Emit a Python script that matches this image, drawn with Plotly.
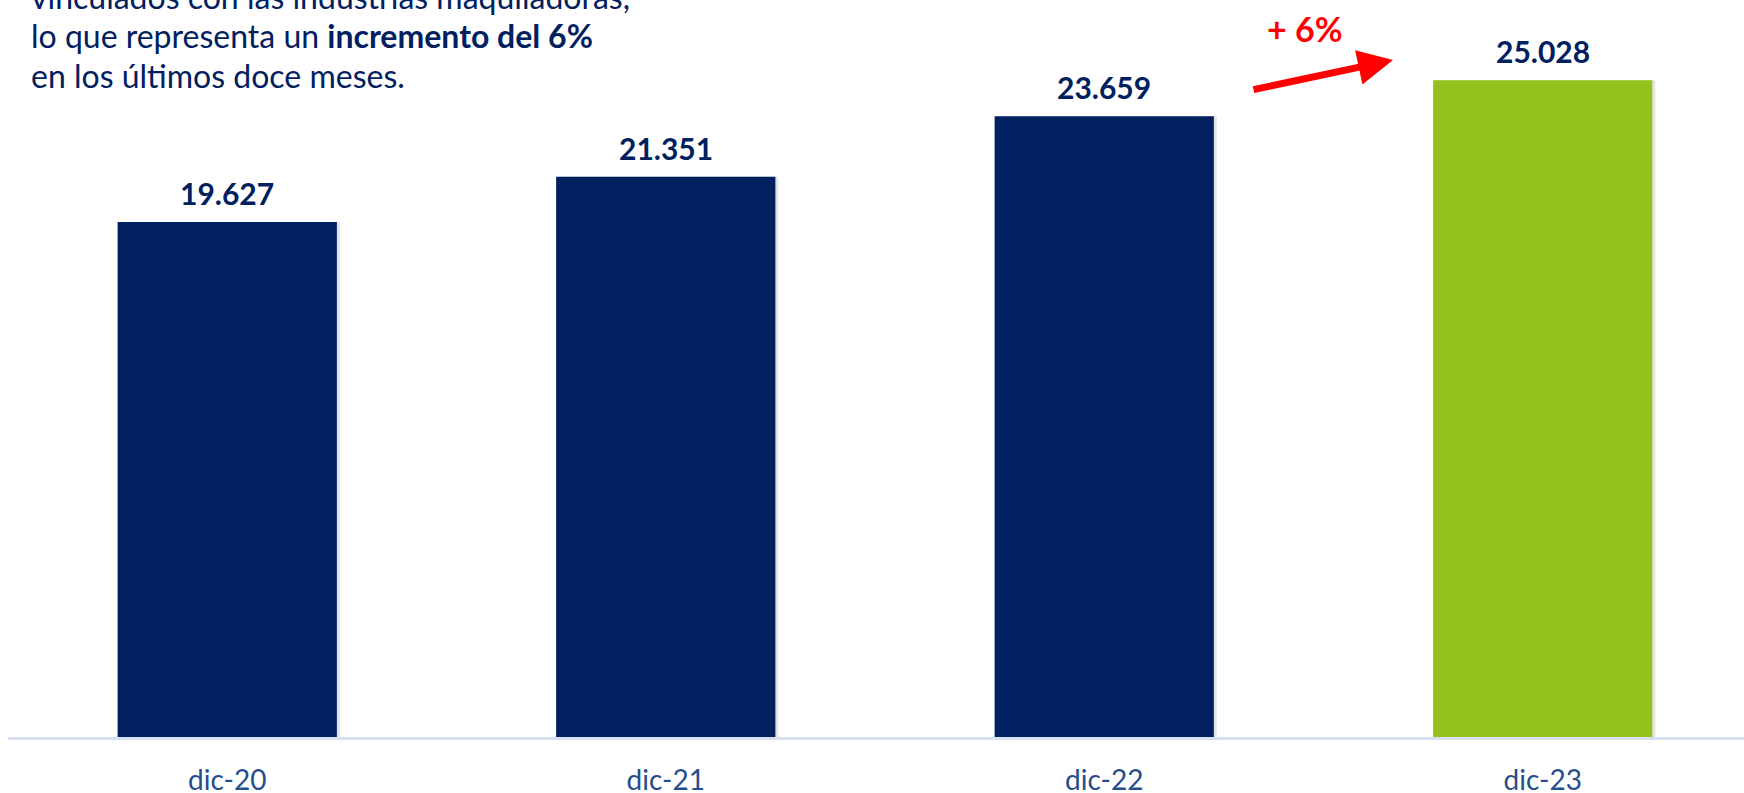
import plotly.graph_objects as go

categories = ["dic-20", "dic-21", "dic-22", "dic-23"]
values = [19.627, 21.351, 23.659, 25.028]
value_labels = ["19.627", "21.351", "23.659", "25.028"]
bar_colors = ["#002060", "#002060", "#002060", "#95C11F"]
intro_lines = [
    "vinculados con las industrias maquiladoras,",
    "lo que representa un <b>incremento del 6%</b>",
    "en los últimos doce meses.",
]
growth_label = "+ 6%"

W, H = 1744, 793
L, R, T, B = 8, 0, 0, 56
NAVY = "#002060"
FONT = "Lato"
YMAX = 28.09
XR = [-0.5, 3.459]

ph = H - T - B
pw = W - L - R
unit_px = pw / (XR[1] - XR[0])
def px(xp):
    return (xp - L) / pw
def py(yp):
    return (H - B - yp) / ph

fig = go.Figure()
# faint drop shadow to the right of each bar
fig.add_trace(go.Bar(
    x=categories, y=values,
    marker=dict(color="rgba(0,0,0,0.10)", line=dict(width=0)),
    width=0.5, offset=-0.25 + 3 / unit_px, hoverinfo="skip",
))
fig.add_trace(go.Bar(
    x=categories, y=values,
    marker=dict(color=bar_colors, line=dict(width=0)),
    width=0.5, offset=-0.25, hoverinfo="skip",
))

for c, v, t in zip(categories, values, value_labels):
    fig.add_annotation(x=c, y=v, text=f"<b>{t}</b>", showarrow=False,
                       yanchor="middle", yshift=29,
                       font=dict(family=FONT, size=30, color=NAVY))

line_y = [-4, 35, 76]
for txt, yc in zip(intro_lines, line_y):
    fig.add_annotation(xref="paper", yref="paper", x=px(29), y=py(yc),
                       text=txt, showarrow=False, xanchor="left", yanchor="middle",
                       align="left", font=dict(family=FONT, size=32, color=NAVY))

fig.add_annotation(xref="paper", yref="paper", x=px(1305), y=py(28),
                   text=f"<b>{growth_label}</b>", showarrow=False,
                   xanchor="center", yanchor="middle",
                   font=dict(family=FONT, size=34, color="#FF0000"))

fig.add_annotation(xref="paper", yref="paper", x=px(1393), y=py(60),
                   ax=-141, ay=30, axref="pixel", ayref="pixel",
                   text="", showarrow=True, arrowhead=2, arrowsize=1.0,
                   arrowwidth=7, arrowcolor="#FF0000", standoff=0)

fig.update_layout(
    width=W, height=H,
    margin=dict(l=L, r=R, t=T, b=B, autoexpand=False),
    paper_bgcolor="white", plot_bgcolor="white",
    showlegend=False,
    barmode="overlay",
    xaxis=dict(range=XR, showgrid=False, zeroline=False, fixedrange=True,
               automargin=False,
               showline=True, linecolor="#D6E0F0", linewidth=3,
               ticks="", ticklabelstandoff=16,
               tickfont=dict(family=FONT, size=28, color="#264D8C")),
    yaxis=dict(range=[0, YMAX], visible=False, showgrid=False, zeroline=False,
               fixedrange=True, automargin=False),
)

fig.write_html("out.html",
               config={"displayModeBar": False, "staticPlot": True},
               post_script="document.body.style.margin='0';"
                           "document.documentElement.style.overflow='hidden';")
